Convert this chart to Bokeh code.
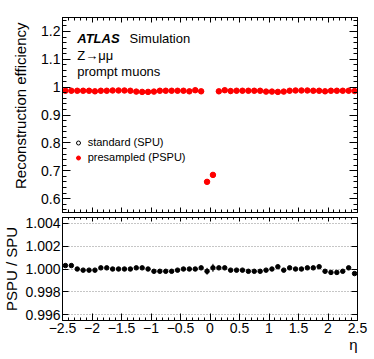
from bokeh.plotting import figure
from bokeh.layouts import column
from bokeh.models import (Range1d, FixedTicker, LinearAxis, Label, Legend,
                          LegendItem, Title)
from bokeh.embed import file_html
from bokeh.resources import INLINE

# ---------------- data ----------------
eta = [-2.45, -2.35, -2.25, -2.15, -2.05, -1.95, -1.85, -1.75, -1.65, -1.55,
       -1.45, -1.35, -1.25, -1.15, -1.05, -0.95, -0.85, -0.75, -0.65, -0.55,
       -0.45, -0.35, -0.25, -0.15, -0.05, 0.05, 0.15, 0.25, 0.35, 0.45,
       0.55, 0.65, 0.75, 0.85, 0.95, 1.05, 1.15, 1.25, 1.35, 1.45,
       1.55, 1.65, 1.75, 1.85, 1.95, 2.05, 2.15, 2.25, 2.35, 2.45]

eff_pspu = [0.987, 0.987, 0.987, 0.987, 0.987, 0.985, 0.987, 0.987, 0.988, 0.988,
            0.988, 0.987, 0.984, 0.983, 0.983, 0.984, 0.987, 0.987, 0.987, 0.987,
            0.987, 0.985, 0.989, 0.985, 0.660, 0.685, 0.985, 0.989, 0.986, 0.987,
            0.987, 0.987, 0.987, 0.987, 0.984, 0.984, 0.983, 0.984, 0.987, 0.988,
            0.988, 0.988, 0.987, 0.987, 0.985, 0.987, 0.987, 0.987, 0.987, 0.986]

ratio = [1.0003, 1.0003, 1.0000, 0.9999, 0.9999, 0.9999, 1.0001, 1.0001, 1.0000, 1.0000,
         1.0000, 1.0000, 1.0001, 1.0001, 1.0000, 0.9998, 0.9998, 0.9998, 0.9998, 0.9999,
         1.0000, 1.0000, 1.0000, 1.0001, 0.9998, 1.0001, 1.0001, 1.0001, 0.9999, 0.9999,
         0.9999, 0.9998, 0.9998, 0.9998, 0.9999, 1.0000, 1.0002, 0.9999, 1.0001, 1.0000,
         1.0000, 1.0001, 1.0001, 1.0002, 0.9998, 0.9997, 0.9997, 0.9998, 1.0001, 0.9996]

ratio_err = [0.00004] * 24 + [0.0003, 0.00035] + [0.00004] * 24

eff_spu = [e / r for e, r in zip(eff_pspu, ratio)]

x_ticks = [-2.5, -2.0, -1.5, -1.0, -0.5, 0.0, 0.5, 1.0, 1.5, 2.0, 2.5]
x_labels = ["\u22122.5", "\u22122", "\u22121.5", "\u22121", "\u22120.5", "0",
            "0.5", "1", "1.5", "2", "2.5"]
y_top_ticks = [0.6, 0.7, 0.8, 0.9, 1.0, 1.1, 1.2]
y_top_labels = ["0.6", "0.7", "0.8", "0.9", "1", "1.1", "1.2"]
y_bot_ticks = [0.996, 0.998, 1.0, 1.002, 1.004]
y_bot_labels = ["0.996", "0.998", "1.000", "1.002", "1.004"]

FONT = "Liberation Sans"

x_minor = [round(-2.5 + 0.1 * i, 2) for i in range(51)]
y_top_minor = [round(0.56 + 0.02 * i, 2) for i in range(35)]

x_ticker = FixedTicker(ticks=x_ticks, minor_ticks=x_minor)
y_top_ticker = FixedTicker(ticks=y_top_ticks, minor_ticks=y_top_minor)
y_bot_ticker = FixedTicker(ticks=y_bot_ticks, minor_ticks=[])


def style_axis(ax, ticker, major_in, minor_in, labels=None):
    ax.ticker = ticker
    ax.major_tick_in = major_in
    ax.major_tick_out = 0
    ax.minor_tick_in = minor_in
    ax.minor_tick_out = 0
    ax.axis_line_color = "black"
    ax.major_tick_line_color = "black"
    ax.minor_tick_line_color = "black"
    if labels is None:
        ax.major_label_text_font_size = "0px"
        ax.major_label_standoff = 0
    else:
        ax.major_label_overrides = dict(zip(ticker.ticks, labels))
        ax.major_label_text_font = FONT
        ax.major_label_text_font_size = "14px"
        ax.major_label_text_color = "black"
        ax.major_label_standoff = 2


x_rng = Range1d(-2.5, 2.5)

# ---------------- top panel ----------------
top = figure(x_range=x_rng, y_range=Range1d(0.55, 1.25),
             frame_width=295, frame_height=195,
             min_border_left=60, min_border_right=11,
             min_border_top=17, min_border_bottom=3,
             output_backend="svg", toolbar_location=None)
top.grid.visible = False
top.outline_line_color = "black"
top.background_fill_color = "white"
top.border_fill_color = "white"

style_axis(top.xaxis[0], x_ticker, 5, 3)
style_axis(top.yaxis[0], y_top_ticker, 8, 4, y_top_labels)
ax_t = LinearAxis()
style_axis(ax_t, x_ticker, 5, 3)
top.add_layout(ax_t, "above")
ax_r = LinearAxis()
style_axis(ax_r, y_top_ticker, 8, 4)
top.add_layout(ax_r, "right")

top.add_layout(Title(text="Reconstruction efficiency", align="right",
                     text_font=FONT, text_font_size="15px",
                     text_font_style="normal", text_color="black",
                     standoff=19, offset=5), "left")

spu_r = top.scatter(eta, eff_spu, marker="circle", size=4, fill_color=None,
                    line_color="black", line_width=1)
pspu_r = top.scatter(eta, eff_pspu, marker="circle", size=5.5,
                     fill_color="#ff0000", line_color="#ff0000")

legend = Legend(items=[LegendItem(label="standard (SPU)", renderers=[spu_r]),
                       LegendItem(label="presampled (PSPU)", renderers=[pspu_r])],
                location=(10.7, 48.5), padding=0, margin=0, spacing=2,
                glyph_width=10, glyph_height=13, label_height=13,
                label_standoff=5, label_text_font=FONT,
                label_text_font_size="11px", label_text_color="black",
                background_fill_alpha=0, border_line_alpha=0)
top.add_layout(legend, "center")

top.add_layout(Label(x=-2.25, y=1.1735, text="ATLAS", text_font=FONT,
                     text_font_style="bold italic", text_font_size="13px",
                     text_color="black", text_baseline="alphabetic"))
top.add_layout(Label(x=-1.364, y=1.1735, text="Simulation", text_font=FONT,
                     text_font_size="13px", text_color="black",
                     text_baseline="alphabetic"))
top.add_layout(Label(x=-2.25, y=1.1136, text="Z\u2192\u03bc\u03bc", text_font=FONT,
                     text_font_size="13px", text_color="black",
                     text_baseline="alphabetic"))
top.add_layout(Label(x=-2.25, y=1.0562, text="prompt muons", text_font=FONT,
                     text_font_size="13px", text_color="black",
                     text_baseline="alphabetic"))

# ---------------- bottom panel ----------------
bot = figure(x_range=x_rng, y_range=Range1d(0.9955, 1.0045),
             frame_width=295, frame_height=103,
             min_border_left=60, min_border_right=11,
             min_border_top=2, min_border_bottom=33,
             output_backend="svg", toolbar_location=None)
bot.xgrid.visible = False
bot.ygrid.grid_line_color = "#8c8c8c"
bot.ygrid.grid_line_dash = "1 2"
bot.outline_line_color = "black"
bot.background_fill_color = "white"
bot.border_fill_color = "white"

style_axis(bot.xaxis[0], x_ticker, 7, 3, x_labels)
style_axis(bot.yaxis[0], y_bot_ticker, 6, 3, y_bot_labels)
bot.yaxis[0].axis_label = "PSPU / SPU"
bot.yaxis[0].axis_label_standoff = 2
bot.yaxis[0].axis_label_text_font = FONT
bot.yaxis[0].axis_label_text_font_size = "15px"
bot.yaxis[0].axis_label_text_font_style = "normal"
bot.yaxis[0].axis_label_text_color = "black"
bot.ygrid.ticker = y_bot_ticker
ax_t2 = LinearAxis()
style_axis(ax_t2, x_ticker, 4, 2)
bot.add_layout(ax_t2, "above")
ax_r2 = LinearAxis()
style_axis(ax_r2, y_bot_ticker, 6, 3)
bot.add_layout(ax_r2, "right")

bot.add_layout(Title(text="\u03b7", align="right", text_font=FONT,
                     text_font_size="15px", text_font_style="normal",
                     text_color="black", standoff=-3), "below")

lo = [r - e for r, e in zip(ratio, ratio_err)]
hi = [r + e for r, e in zip(ratio, ratio_err)]
bot.segment(x0=eta, y0=lo, x1=eta, y1=hi, line_color="black", line_width=1)
bot.scatter(eta, ratio, marker="circle", size=4.5, fill_color="black",
            line_color="black")

layout = column(top, bot, spacing=0)
open("out.html", "w").write(file_html(layout, INLINE))
